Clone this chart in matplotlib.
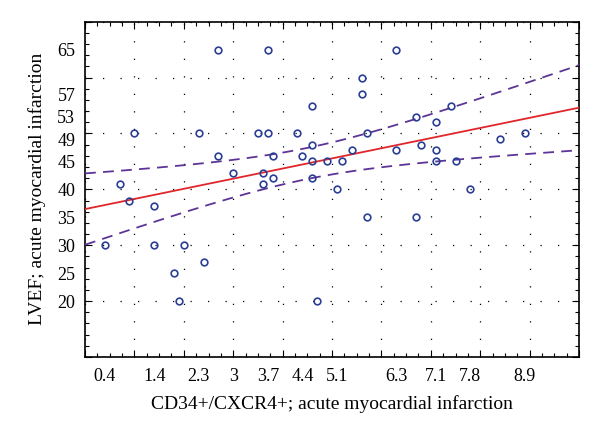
import numpy as np
import matplotlib.pyplot as plt
from matplotlib.ticker import MultipleLocator

# CD34+/CXCR4+ vs LVEF
cd34 = [0.4, 0.7, 0.9, 1.0, 1.4, 1.4, 1.8, 1.9, 2.0, 2.3,
        2.4, 2.7, 2.7, 3.0, 3.5, 3.6, 3.6, 3.7, 3.7, 3.8,
        3.8, 4.3, 4.4, 4.6, 4.6, 4.6, 4.6, 4.7, 4.9, 5.1,
        5.2, 5.4, 5.6, 5.6, 5.7, 5.7, 6.3, 6.3, 6.7, 6.7,
        6.8, 7.1, 7.1, 7.1, 7.4, 7.5, 7.8, 8.4, 8.9]
lvef = [30, 41, 38, 50, 37, 30, 25, 20, 30, 50,
        27, 65, 46, 43, 50, 43, 41, 65, 50, 46,
        42, 50, 46, 55, 48, 45, 42, 20, 45, 40,
        45, 47, 60, 57, 50, 35, 65, 47, 53, 35,
        48, 45, 52, 47, 55, 45, 40, 49, 50]

x_ticklabels = [0.4, 1.4, 2.3, 3, 3.7, 4.4, 5.1, 6.3, 7.1, 7.8, 8.9]
y_ticklabels = [20, 25, 30, 35, 40, 45, 49, 53, 57, 65]

plt.rcParams['font.family'] = ['Liberation Serif', 'DejaVu Serif']
plt.rcParams['font.size'] = 13

x = np.array(cd34)
y = np.array(lvef)
n = len(x)

# linear fit with 95% confidence band of the mean
slope, intercept = np.polyfit(x, y, 1)
resid = y - (intercept + slope * x)
s = np.sqrt(np.sum(resid ** 2) / (n - 2))
t = 2.012
xs = np.linspace(0, 10, 200)
fit = intercept + slope * xs
half = t * s * np.sqrt(1 / n + (xs - x.mean()) ** 2 / np.sum((x - x.mean()) ** 2))

fig = plt.figure(figsize=(6, 4.34), dpi=100)
ax = fig.add_axes([0.1417, 0.1774, 0.8233, 0.7726])

ax.plot(xs, fit, color='#e0262b', lw=1.3, zorder=3)
ax.plot(xs, fit + half, color='#5c3596', lw=1.3, dashes=(6, 4), zorder=3)
ax.plot(xs, fit - half, color='#5c3596', lw=1.3, dashes=(6, 4), zorder=3)
ax.plot(x, y, 'o', mfc='none', mec='#2a3f94', mew=1.2, ms=4.8, zorder=4)

ax.set_xlim(0, 10)
ax.set_ylim(10, 70)

ax.xaxis.set_major_locator(MultipleLocator(1))
ax.xaxis.set_minor_locator(MultipleLocator(0.25))
ax.yaxis.set_major_locator(MultipleLocator(10))
ax.yaxis.set_minor_locator(MultipleLocator(2))
ax.tick_params(which='both', direction='in', top=True, right=True,
               labelbottom=False, labelleft=False, width=0.8, color='black')
ax.tick_params(which='major', length=5)
ax.tick_params(which='minor', length=3)
ax.grid(True, which='major', color='black', lw=0.9, linestyle=(0, (1, 13)))
for sp in ax.spines.values():
    sp.set_linewidth(1.2)

secx = ax.secondary_xaxis('bottom')
secx.set_xticks(x_ticklabels, labels=[str(v) for v in x_ticklabels])
secx.tick_params(length=0, pad=8)
secx.spines['bottom'].set_visible(False)

secy = ax.secondary_yaxis('left')
secy.set_yticks(y_ticklabels, labels=[str(v) for v in y_ticklabels])
secy.tick_params(length=0, pad=7)
secy.spines['left'].set_visible(False)

secx.set_xlabel('CD34+/CXCR4+; acute myocardial infarction', fontsize=14, labelpad=7)
secy.set_ylabel('LVEF; acute myocardial infarction', fontsize=14, labelpad=8)

fig.savefig('out.png', dpi=100)
